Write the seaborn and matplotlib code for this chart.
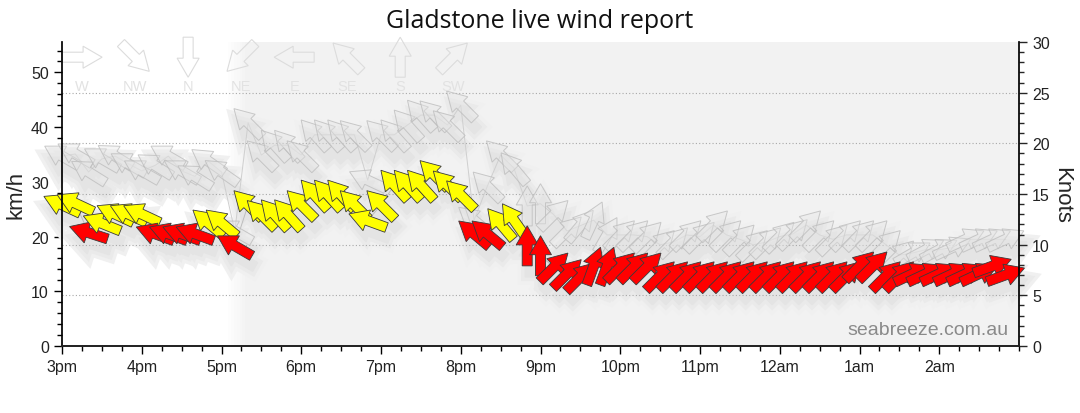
import numpy as np
import pandas as pd
import seaborn as sns
import matplotlib
matplotlib.use("Agg")
import matplotlib.pyplot as plt
from matplotlib.patches import Polygon
from matplotlib.transforms import Affine2D, ScaledTranslation

KMH_PER_KNOT = 1.852

# observation times, minutes after 3pm (10 minute readings)
minutes = np.arange(0, 720, 10)

# average wind, km/h
avg_kmh = [
    25.8, 26.1, 20.7, 22.4, 24.1, 24.1, 24.1, 20.5, 20.5, 20.5, 20.5, 22.5, 22.5, 18.3,
    25.8, 24.0, 24.0, 24.0, 25.8, 27.6, 27.6, 27.6, 25.8, 22.9, 25.8, 29.4, 29.4, 29.4,
    31.3, 29.4, 27.6,
    20.5, 20.5, 22.3, 23.0, 18.3, 16.5,
    14.4, 13.2, 12.6, 14.6, 14.6, 14.4, 14.4, 14.4,
    12.8, 12.8, 12.8, 12.8, 12.8, 12.8, 12.8, 12.8, 12.8, 12.8, 12.8, 12.8, 12.8, 12.8,
    12.8, 14.6, 14.6, 12.8, 12.8,
    13.2, 13.2, 13.2, 13.2, 13.2, 13.2, 14.6, 13.0,
]
# direction the average wind comes from, degrees
avg_from = [
    115, 115, 108, 112, 115, 115, 115, 110, 110, 110, 110, 130, 130, 120,
    135, 135, 138, 138, 135, 138, 138, 138, 135, 110, 135, 138, 138, 138,
    135, 135, 135,
    130, 130, 140, 145, 180, 180,
    225, 225, 225, 200, 200, 225, 225, 225,
    225, 225, 225, 225, 225, 225, 225, 225, 225, 225, 225, 225, 225, 225,
    225, 225, 225, 225, 225,
    245, 245, 245, 245, 245, 245, 250, 250,
]
# gusts, km/h
gust_kmh = [
    34.7, 35.1, 31.8, 34.2, 34.7, 33.3, 32.0, 33.0, 34.7, 32.0, 31.0, 33.8, 31.8, 21.0,
    40.8, 34.9, 36.7, 36.7, 34.9, 38.6, 38.6, 38.6, 38.6, 30.3, 38.6, 38.6, 40.4, 42.2,
    42.2, 40.4, 44.0,
    23.0, 29.2, 34.9, 32.5, 25.6, 26.0,
    24.0, 21.0, 22.0, 23.0, 20.3, 20.3, 20.3, 20.0,
    18.5, 19.0, 20.3, 20.0, 22.1, 20.3, 19.5, 18.5, 19.0, 20.0, 20.5, 22.1, 20.3, 19.5,
    20.3, 20.3, 20.3, 18.5, 16.6,
    17.0, 17.6, 17.6, 18.0, 19.5, 19.5, 19.5, 19.5,
]
gust_from = [
    120, 120, 122, 120, 122, 120, 120, 122, 120, 120, 122, 125, 125, 120,
    135, 135, 138, 138, 135, 138, 138, 138, 135, 115, 135, 138, 138, 138,
    135, 135, 135,
    130, 135, 135, 140, 180, 180,
    225, 225, 220, 205, 210, 225, 225, 225,
    225, 225, 225, 225, 225, 225, 225, 225, 225, 225, 225, 225, 225, 225,
    225, 225, 225, 225, 225,
    240, 242, 242, 245, 245, 245, 245, 245,
]

hour_labels = ["3pm", "4pm", "5pm", "6pm", "7pm", "8pm", "9pm", "10pm",
               "11pm", "12am", "1am", "2am"]
compass_names = ["W", "NW", "N", "NE", "E", "SE", "S", "SW"]
compass_from = [270, 315, 0, 45, 90, 135, 180, 225]

SUNSET = 140  # minutes after 3pm where night shading is solid
YELLOW_ABOVE = 22.0  # km/h

df = pd.DataFrame({"t": minutes, "avg": avg_kmh, "avg_from": avg_from,
                   "gust": gust_kmh, "gust_from": gust_from})

# fat arrow, pixels, pointing +x, centred
ARROW = np.array([(-20, -5), (1, -5), (1, -11), (20, 0), (1, 11), (1, 5), (-20, 5)])

sns.set_theme(style="ticks")
plt.rcParams["font.family"] = ["Liberation Sans", "DejaVu Sans"]

fig = plt.figure(figsize=(10.8, 4.14), dpi=100)
ax = fig.add_axes([62 / 1080, 1 - 347 / 414, (1019 - 62) / 1080, (347 - 43) / 414])
ymax = 30 * KMH_PER_KNOT
ax.set_xlim(0, 720)
ax.set_ylim(0, ymax)


def screen_angle(wind_from):
    return -90 - wind_from


def add_arrow(x, y, wind_from, base, z, offset=(0, 0), **kw):
    tr = (Affine2D().rotate_deg(screen_angle(wind_from)).translate(*offset)
          + ScaledTranslation(x, y, base))
    ax.add_patch(Polygon(ARROW, closed=True, transform=tr, zorder=z,
                         clip_on=False, **kw))


# night shading with soft edge
edge = np.linspace(SUNSET - 15, SUNSET, 8)
shades = np.linspace(1.0, 0.949, 8)
for x0, x1, c in zip(edge[:-1], edge[1:], shades[1:]):
    ax.axvspan(x0, x1, color=str(c), lw=0, zorder=0)
ax.axvspan(SUNSET, 720, color="#f2f2f2", lw=0, zorder=0)

# knot grid, above the shadows but under the arrows
ax.hlines(np.array([5, 10, 15, 20, 25]) * KMH_PER_KNOT, 0, 720, colors="#a8a8a8",
          linestyles=(0, (1, 2)), lw=0.8, zorder=0.75)

# connecting lines
sns.lineplot(data=df, x="t", y="gust", ax=ax, color="#cfcfcf", lw=0.7, zorder=0.8)
sns.lineplot(data=df, x="t", y="avg", ax=ax, color="#bdbdbd", lw=0.7, zorder=0.8)

# soft shadows
for lw, col, z in ((11, "#f0f0f0", 0.55), (6, "#eaeaea", 0.6), (1, "#e4e4e4", 0.65)):
    for ser, dcol in (("gust", "gust_from"), ("avg", "avg_from")):
        for _, r in df.iterrows():
            add_arrow(r["t"], r[ser], r[dcol], ax.transData, z, offset=(3, -11),
                      facecolor=col, edgecolor=col, lw=lw)

# gust arrows
for _, r in df.iterrows():
    add_arrow(r["t"], r["gust"], r["gust_from"], ax.transData, 1.0,
              facecolor=(0.90, 0.90, 0.90, 0.40), edgecolor=(0.74, 0.74, 0.74, 0.8),
              lw=0.7)

# average arrows
for _, r in df.iterrows():
    face = "#ffff00" if r["avg"] >= YELLOW_ABOVE else "#ff0000"
    add_arrow(r["t"], r["avg"], r["avg_from"], ax.transData, 2.0,
              facecolor=face, edgecolor="#3a3a3a", lw=0.6)

# compass key
for i, (name, d) in enumerate(zip(compass_names, compass_from)):
    fx = 0.021 + i * 0.0554
    add_arrow(fx, 0.95, d, ax.transAxes, 2.2, facecolor="none",
              edgecolor="#dcdcdc", lw=0.8)
    ax.text(fx, 0.855, name, transform=ax.transAxes, ha="center", va="center",
            fontsize=10.5, color="#e2e2e2", zorder=2.2)

# axes styling
ax.set_xticks(np.arange(0, 720, 60))
ax.set_xticklabels(hour_labels)
ax.set_xticks(np.arange(0, 721, 15), minor=True)
ax.set_yticks(np.arange(0, 51, 10))
ax.set_yticks(np.arange(0, 56, 2), minor=True)
ax.tick_params(axis="both", which="major", length=6, width=1, labelsize=11.5,
               colors="black", labelcolor="#222222")
ax.tick_params(axis="both", which="minor", length=3.5, width=1, colors="black")
ax.set_xlabel("")
ax.set_ylabel("km/h", fontsize=16, labelpad=3)
for s in ("top", "right"):
    ax.spines[s].set_visible(False)
for s in ("left", "bottom"):
    ax.spines[s].set_color("black")
    ax.spines[s].set_zorder(3)

ax2 = ax.twinx()
ax2.set_ylim(0, 30)
ax2.set_yticks(np.arange(0, 31, 5))
ax2.set_yticks(np.arange(0, 31, 1), minor=True)
ax2.tick_params(axis="y", which="major", length=6, width=1, labelsize=11.5,
                labelcolor="#222222")
ax2.tick_params(axis="y", which="minor", length=3.5, width=1)
ax2.set_ylabel("Knots", fontsize=16, rotation=270, labelpad=16)
ax2.spines["top"].set_visible(False)
ax2.spines["left"].set_visible(False)
ax2.spines["right"].set_color("black")
ax2.grid(False)

ax.text(0.989, 0.055, "seabreeze.com.au", transform=ax.transAxes, ha="right",
        va="center", fontsize=14, color="#8a8a8a", zorder=2.5)

fig.text(0.5, 1 - 21 / 414, "Gladstone live wind report", ha="center", va="center",
         fontsize=18, family=["Open Sans", "DejaVu Sans"], color="#111111")

fig.savefig("out.png", dpi=100)
